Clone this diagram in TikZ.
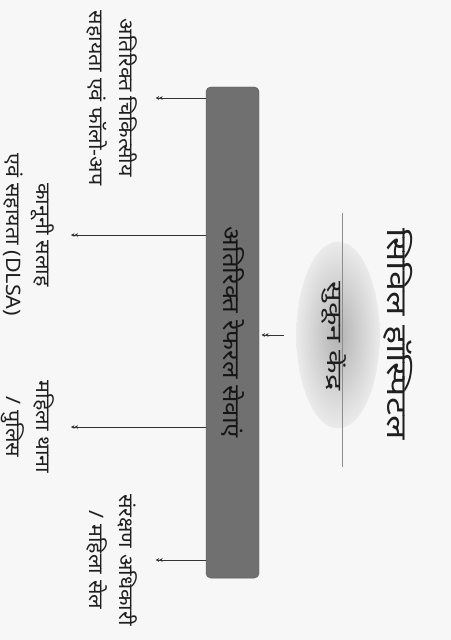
\documentclass[tikz,border=0pt]{standalone}
\usepackage{fontspec}
\newfontfamily\hindi[Script=Devanagari]{Noto Sans}
\usetikzlibrary{shapes.geometric,arrows.meta,calc}

\tikzset{
  sidetext/.style={rotate=-90, align=center, inner sep=1pt,
                   font=\hindi\addfontfeature{FakeStretch=1.08}\fontsize{17}{26}\selectfont,
                   text=black!88},
  arr/.style={-{Stealth[length=3pt,width=3.2pt]Stealth[length=3pt,width=3.2pt]},
              line width=0.6pt, draw=black!80},
}

\begin{document}
\begin{tikzpicture}[x=0.03cm, y=-0.03cm]
  % paper
  \fill[black!3] (0,0) rectangle (451,640);
  \useasboundingbox (0,0) rectangle (451,640);

  \node[sidetext, font=\hindi\addfontfeature{FakeStretch=1.28}\fontsize{24}{28}\selectfont] (title) at (398,334) {सिविल हॉस्पिटल};

  \node[rotate=-90, ellipse, minimum width=5.6cm, minimum height=2.5cm,
        inner color=black!30, outer color=black!8] (sukoon) at (338,335) {};
  \draw[black!45, line width=0.4pt] ($(sukoon.center)+(4,-122)$) -- ($(sukoon.center)+(4,132)$);
  \node[sidetext, font=\hindi\addfontfeature{FakeStretch=1.45}\fontsize{18}{20}\selectfont, anchor=north] (sukoontxt) at (348,336) {सुकून केंद्र};

  \node[rotate=-90, rectangle, rounded corners=4pt, fill=black!56, draw=black!66,
        minimum width=14.73cm, minimum height=1.59cm,
        font=\hindi\addfontfeature{FakeStretch=1.1}\fontsize{20}{22}\selectfont, text=black!92] (bar) at (232.5,332.5) {अतिरिक्त रेफरल सेवाएं};

  \node[sidetext, anchor=north] (lbl1) at (139,98) {अतिरिक्त चिकित्सीय\\सहायता एवं फॉलो-अप};
  \node[sidetext, anchor=north] (lbl2) at (56,235) {कानूनी सलाह\\एवं सहायता (DLSA)};
  \node[sidetext, anchor=north] (lbl3) at (56,427) {महिला थाना\\/ पुलिस};
  \node[sidetext, anchor=north] (lbl4) at (139,560) {संरक्षण अधिकारी\\/ महिला सेल};

  \draw[arr, shorten <=0.36cm, shorten >=2pt] (sukoon.south) -- (bar.north |- sukoon.south);
  \draw[arr, shorten >=0.5cm] (bar.south |- lbl1.north) -- (lbl1.north);
  \draw[arr, shorten >=0.45cm] (bar.south |- lbl2.north) -- (lbl2.north);
  \draw[arr, shorten >=0.45cm] (bar.south |- lbl3.north) -- (lbl3.north);
  \draw[arr, shorten >=0.5cm] (bar.south |- lbl4.north) -- (lbl4.north);
\end{tikzpicture}
\end{document}
